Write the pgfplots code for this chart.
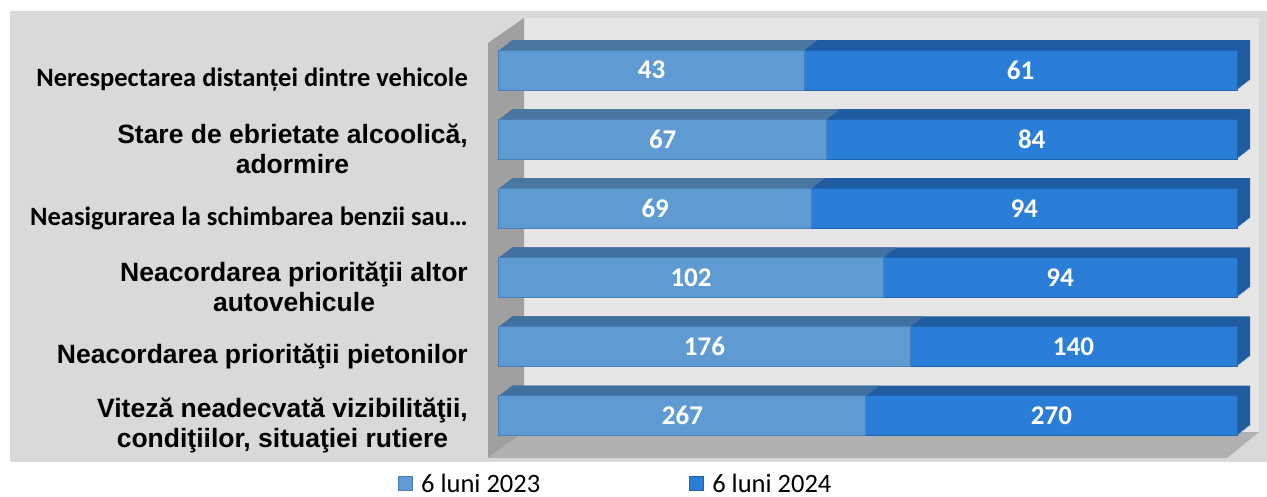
\documentclass[border=0pt]{standalone}
\usepackage{fontspec}
\setmainfont{Liberation Sans}
\newfontfamily\carlito{Carlito}
\usepackage{pgfplots}
\pgfplotsset{compat=1.18}
\usepackage{pgfplotstable}

\definecolor{panel}{HTML}{D9D9D9}
\definecolor{wall}{HTML}{E6E6E6}
\definecolor{sidewall}{HTML}{A0A0A0}
\definecolor{floorc}{HTML}{B0B0B0}
\definecolor{lbfront}{HTML}{5F9BD3}
\definecolor{lbedge}{HTML}{4A7EB5}
\definecolor{lbtop}{HTML}{4A77A0}
\definecolor{dbfront}{HTML}{2A7ED8}
\definecolor{dbedge}{HTML}{1F63B3}
\definecolor{dbtop}{HTML}{1F5DA0}

% y = row from the bottom, a = 6 luni 2023, b = 6 luni 2024
\pgfplotstableread{
y a b
0 267 270
1 176 140
2 102 94
3 69 94
4 67 84
5 43 61
}\causes

\begin{document}
\begin{tikzpicture}
% page, outer panel, back wall, side wall and floor (pixel grid, y down)
\fill[white] (0pt,0pt) rectangle (1267pt,-496pt);
\fill[panel] (10pt,-11pt) rectangle (1267pt,-462pt);
\fill[wall] (524pt,-18pt) rectangle (1259pt,-432pt);
\fill[sidewall] (488pt,-43pt) -- (524pt,-18pt) -- (524pt,-432pt) -- (488pt,-458pt) -- cycle;
\fill[floorc] (488pt,-458pt) -- (524pt,-432pt) -- (1259pt,-432pt) -- (1227pt,-458pt) -- cycle;

\begin{axis}[
  at={(499pt,-458pt)}, anchor=south west,
  scale only axis, width=738pt, height=440pt,
  xmin=0, xmax=100, ymin=-0.615, ymax=5.753,
  clip=false,
  axis line style={draw=none},
  major tick length=0pt,
  xtick=\empty,
  ytick={0,...,5},
  yticklabels={
    {Viteză neadecvată vizibilităţii,\\condiţiilor, situaţiei rutiere},
    {Neacordarea priorităţii pietonilor},
    {Neacordarea priorităţii altor\\autovehicule},
    {\carlito Neasigurarea la schimbarea benzii sau…},
    {Stare de ebrietate alcoolică,\\adormire},
    {\carlito Nerespectarea distanței dintre vehicole}},
  yticklabel style={anchor=east, inner sep=0pt, xshift=-31pt, yshift=-10pt,
    align=center, font=\bfseries\fontsize{26.5}{30}\selectfont},
  legend columns=2,
  legend style={at={(-0.1369,-0.0590)}, anchor=west, draw=none, fill=none,
    inner sep=0pt, font=\carlito\fontsize{26.5}{26.5}\selectfont,
    column sep=0pt, /tikz/every even column/.append style={column sep=147pt}},
]

% depth faces of the 3-D bars
\pgfplotsinvokeforeach{10,9,...,1}{
  \addplot[xbar, bar width=40pt, bar shift=0pt, draw=none, fill=dbtop,
    xshift={1.3pt*#1}, yshift={#1pt}, forget plot]
    table[x expr=100, y=y] {\causes};
  \addplot[xbar, bar width=40pt, bar shift=0pt, draw=none, fill=lbtop,
    xshift={1.3pt*#1}, yshift={#1pt}, forget plot]
    table[x expr={100*\thisrow{a}/(\thisrow{a}+\thisrow{b})}, y=y] {\causes};
}

% front faces
\addplot[xbar, bar width=40pt, bar shift=0pt, draw=dbedge, line width=1pt,
  fill=dbfront, forget plot]
  table[x expr=100, y=y] {\causes};
\addplot[xbar, bar width=40pt, bar shift=0pt, draw=lbedge, line width=1pt,
  fill=lbfront, forget plot]
  table[x expr={100*\thisrow{a}/(\thisrow{a}+\thisrow{b})}, y=y] {\causes};

% value labels
\addplot[draw=none, mark=none, forget plot, nodes near coords,
  point meta=explicit symbolic, nodes near coords align=center,
  nodes near coords style={anchor=center, text=white,
    font=\carlito\bfseries\fontsize{27}{27}\selectfont}]
  table[x expr={50*\thisrow{a}/(\thisrow{a}+\thisrow{b})}, y=y, meta=a] {\causes};
\addplot[draw=none, mark=none, forget plot, nodes near coords,
  point meta=explicit symbolic, nodes near coords align=center,
  nodes near coords style={anchor=center, text=white,
    font=\carlito\bfseries\fontsize{27}{27}\selectfont}]
  table[x expr={50*\thisrow{a}/(\thisrow{a}+\thisrow{b})+50}, y=y, meta=b] {\causes};

\addlegendimage{legend image code/.code={\draw[fill=lbfront, draw=lbedge, line width=1pt] (0pt,-7pt) rectangle (14pt,7pt);}}
\addlegendentry{\hspace{6pt}6 luni 2023}
\addlegendimage{legend image code/.code={\draw[fill=dbfront, draw=dbedge, line width=1pt] (0pt,-7pt) rectangle (14pt,7pt);}}
\addlegendentry{\hspace{6pt}6 luni 2024}
\end{axis}
\end{tikzpicture}
\end{document}
